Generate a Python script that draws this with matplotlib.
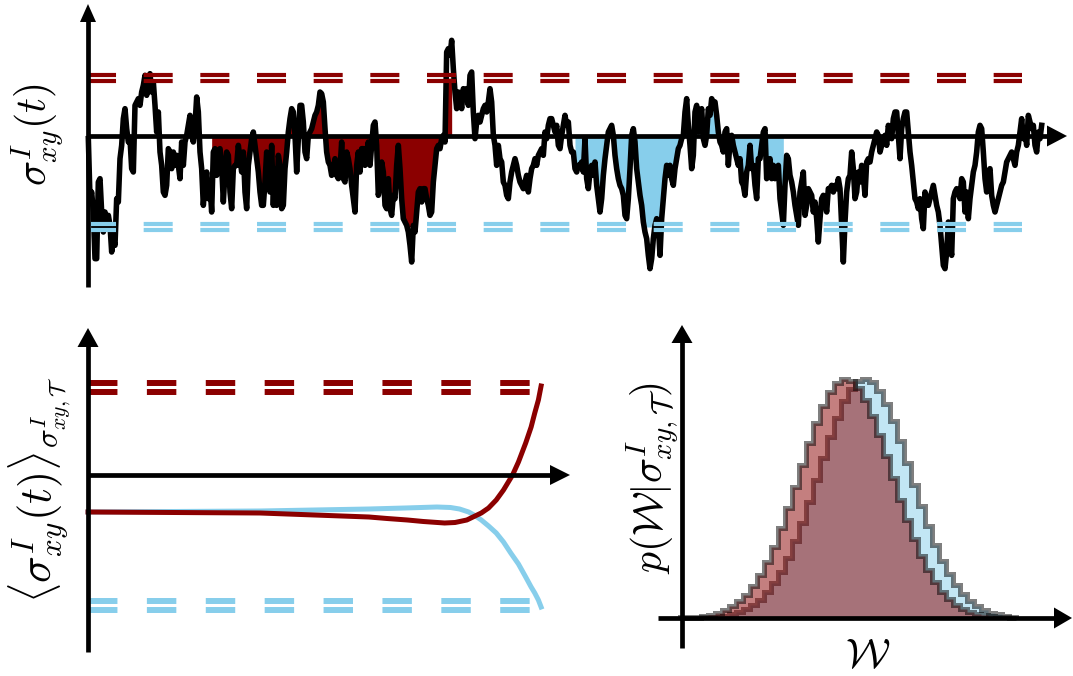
import numpy as np
import matplotlib.pyplot as plt
from matplotlib.patches import Polygon

plt.rcParams['mathtext.fontset'] = 'cm'
plt.rcParams['lines.scale_dashes'] = False

RED = '#8b0000'
BLUE = '#87ceeb'

# ---- top: sampled sigma_xy trace (arbitrary units, 0 = axis) ----
trace = np.array([
    -7, -187, -167, -227, -367, -367, -137, -127, -227, -287,
    -227, -267, -237, -267, -347, -307, -327, -187, -197, -67,
    -27, 53, 83, 23, -17, -7, -97, -107, 93, 103,
    113, 93, 133, 153, 183, 123, 163, 188, 133, 163,
    93, 13, 73, -47, -87, -167, -177, -147, -37, -47,
    -97, -47, -87, -57, -87, -127, -17, -87, -17, 3,
    33, 63, 3, -17, 33, 118, 73, -47, -97, -207,
    -147, -107, -187, -147, -227, -47, -37, -117, -47, -37,
    -87, -197, -107, -47, -57, -167, -217, -97, -87, -87,
    -27, -67, -107, -47,
    -167, -217, -87, -47, -7, 13, -27, -67, -107, -167,
    -207, -207, -137, -47, -87, -167, -27, -207, -97, -207,
    -57, -87, -217, -207, -97, -47, 13, 53, 83, 73,
    3, -107, -7, 93, 93, 43, -47, -67, 3, 13,
    23, 43, 63, 73, 93, 133, 128, 103, 23, -47,
    -77, -87, -117, -107, -67, -117, -127, -97, -17, -127,
    -137, -47, -67, -97, -147, -187, -227, -87, -47, -107,
    -37, -37, -87, -47, -17, -87, -27, 33, 43, -27,
    -177, -147, -77, -107, -207, -217, -127, -217, -237, -177,
    -187, -87, -27, -97, -187, -247,
    -257, -267, -287, -327, -377, -267, -287, -227, -167, -157,
    -197, -157, -157, -187, -207, -237, -227, -137, -87, -37,
    -27, -37, -7, 3, -17, 253, 263, 243, 288, 203,
    133, 83, 133, 113, 83, 143, 123, 143, 93, 183,
    193, 73, -7, 43, 63, 43, 63, 83, 93, 73,
    103, 143, 103, 3, -27, -87, -27, -67, -77, -137,
    -147, -177, -187, -137, -107, -87, -67, -87, -117, -137,
    -147, -157, -137, -117, -167, -127, -97, -87, -67, -87,
    -57, -47, -37, -57, 13, -7, 33, 53, 53, 33,
    13, 33, -27, -37, 3, 33,
    63, 33, 43, -27, -47, -47, -97, -107, -87, -87,
    -77, -107, -7, -127, -157, -107, -87, -117, -77, -147,
    -187, -227, -187, -117, -67, -27, 13, 23, 33, 3,
    -57, -97, -127, -147, -157, -177, -237, -247, -187, -97,
    3, 23, -17, -97, -137, -177, -207, -257, -287, -307,
    -357, -397, -367, -307, -267, -247, -267, -357, -247, -187,
    -127, -87, -117, -87, -127, -147, -97, -67, -37, -27,
    -7, 3, 73, 113, 33, -27, -97, -57, 73, 93,
    13, 53, 83, -7, -27, 3, 83, 63, 113, 103,
    103, 63, 13, -17, -27, -47,
    13, 23, -87, -17, 3, -27, -47, -67, -87, -67,
    -137, -147, -177, -107, -87, -27, -97, -87, -147, -187,
    -67, -67, -27, 13, 23, -127, -87, -67, -127, -87,
    -127, -107, -87, -187, -227, -267, -147, -57, -67, -117,
    -137, -167, -207, -237, -267, -167, -137, -107, -237, -207,
    -157, -167, -177, -227, -197, -247, -317, -247, -187, -177,
    -197, -227, -157, -157, -147, -167, -147, -157, -127, -157,
    -267, -377, -257, -167, -127, -117, -47, -97, -187, -167,
    -107, -137, -87, -117, -177, -77, -67, -77, -47, -27,
    -7, 13, 3, -47, -27, -7,
    3, -27, 33, 13, -7, 53, 73, 73, 3, -67,
    23, 53, 73, 73, 13, -47, -87, -137, -187, -197,
    -217, -187, -247, -277, -167, -187, -207, -187, -167, -147,
    -177, -207, -227, -267, -327, -387, -397, -347, -257, -327,
    -357, -187, -167, -157, -167, -187, -127, -137, -227, -167,
    -247, -187, -147, -107, -87, -47, 13, 33, 23, -47,
    -127, -167, -107, -97, -177, -207, -227, -207, -187, -167,
    -147, -137, -107, -77, -67, -57, -47, -67, -87, -47,
    -27, 13, 53, -7, 13, -27, 63, 43, 23, 33,
    -27, -47, 13, -7, 33,
])
up_thr, low_thr = 174.5, -272
red_win = (74, 218)
blue_win = (292, 417)

# ---- bottom left: conditioned averages ----
t_red = [0, 38, 50, 62, 66, 70.5, 74, 78.7, 81, 83.6, 86.8, 88.4, 90.1, 91.7,
         93.7, 95, 96.6, 97.8, 98.6, 99.4, 100]
mean_red = [-37, -38, -40, -42, -43.5, -45, -46.5, -48, -47.5, -45, -38, -33, -25, -15,
            0, 13, 32, 48, 62, 75, 89]
t_blue = [0, 38, 50, 62, 70, 77, 80, 82, 84, 85.2, 86.8, 88.4, 90.1, 91.7,
          93.3, 95, 96.6, 97.8, 98.6, 99.4, 100]
mean_blue = [-37, -36, -35, -34, -33, -32, -32.5, -34, -37, -40, -45, -51, -58, -67,
             -78, -89, -102, -112, -118, -125, -132]
mean_up, mean_low = 87.4, -130.5

# ---- bottom right: histograms of W ----
hist_red = [0.002, 0.003, 0.005, 0.009, 0.014, 0.021, 0.032, 0.048, 0.069, 0.097,
            0.133, 0.178, 0.234, 0.299, 0.375, 0.459, 0.549, 0.641, 0.731, 0.815,
            0.888, 0.945, 0.983, 1.0, 0.993, 0.963, 0.913, 0.846, 0.766, 0.677,
            0.585, 0.494, 0.408, 0.329, 0.259, 0.199, 0.150, 0.110, 0.079, 0.056,
            0.038, 0.025, 0.017, 0.011, 0.007, 0.004, 0.002, 0.001]
hist_blue = [0.0, 0.001, 0.001, 0.002, 0.004, 0.006, 0.010, 0.016, 0.024, 0.037,
             0.053, 0.076, 0.107, 0.145, 0.194, 0.252, 0.321, 0.399, 0.485, 0.576,
             0.668, 0.757, 0.838, 0.907, 0.959, 0.991, 1.0, 0.986, 0.950, 0.895,
             0.823, 0.740, 0.650, 0.558, 0.468, 0.383, 0.307, 0.240, 0.183, 0.137,
             0.100, 0.071, 0.050, 0.034, 0.022, 0.015, 0.009, 0.006]

W, H = 1073, 676
fig = plt.figure(figsize=(W / 100, H / 100), dpi=100)


def px_axes(x0, y0, x1, y1):
    ax = fig.add_axes([x0 / W, 1 - y1 / H, (x1 - x0) / W, (y1 - y0) / H])
    ax.axis('off')
    return ax


def double_dash(ax, x0, x1, y, off, color, lw, on, gap):
    for d in (-off, off):
        ax.plot([x0, x1], [y + d, y + d], color=color, lw=lw, dashes=(on, gap),
                dash_capstyle='butt', zorder=3)


# top panel
ax1 = px_axes(0, 0, W, 300)
ax1.set_xlim(-53, 590.8)
ax1.set_ylim(-491, 409)
idx = np.arange(len(trace))
for (a, b), c in [(red_win, RED), (blue_win, BLUE)]:
    s = slice(a, b + 1)
    ax1.fill_between(idx[s], 0, np.clip(trace[s], low_thr, up_thr), color=c, lw=0, zorder=1)
ax1.plot(idx, trace, color='k', lw=4, zorder=2)
double_dash(ax1, -0.8, 560, up_thr, 9.5, RED, 3.0, 20.9, 19.9)
double_dash(ax1, -0.8, 560, low_thr, 9.5, BLUE, 3.0, 20.9, 19.9)

# bottom left panel
ax2 = px_axes(0, 300, 600, H)
ax2.set_xlim(-19.43, 113.0)
ax2.set_ylim(-201, 175)
double_dash(ax2, 0.1, 98.2, mean_up, 4.35, RED, 4.3, 21.2, 21.2)
double_dash(ax2, 0.1, 98.2, mean_low, 4.35, BLUE, 4.3, 21.2, 21.2)
ax2.plot(t_blue, mean_blue, color=BLUE, lw=3.6, zorder=4)
ax2.plot(t_red, mean_red, color=RED, lw=3.6, zorder=5)

# bottom right panel
ax3 = px_axes(600, 300, W, H)
ax3.set_xlim(-11.43, 56.14)
ax3.set_ylim(-0.243, 1.331)
edges = np.arange(len(hist_red) + 1)
ax3.stairs(hist_blue, edges, fill=True, facecolor=BLUE, edgecolor='k', lw=3.6, alpha=0.5)
ax3.stairs(hist_red, edges, fill=True, facecolor=RED, edgecolor='k', lw=3.6, alpha=0.5)

# axis arrows and labels in image pixels
ov = fig.add_axes([0, 0, 1, 1])
ov.axis('off')
ov.set_xlim(0, W)
ov.set_ylim(H, 0)


def arrow(x0, y0, x1, y1, hl, hw):
    u = np.array([x1 - x0, y1 - y0], float)
    u /= np.hypot(*u)
    n = np.array([-u[1], u[0]])
    tip = np.array([x1, y1], float)
    base = tip - u * hl
    ov.plot([x0, base[0] + u[0] * 2], [y0, base[1] + u[1] * 2], color='k', lw=3.4,
            solid_capstyle='butt')
    ov.add_patch(Polygon([tip, base + n * hw / 2, base - n * hw / 2], closed=True,
                         color='k', lw=0))


arrow(88, 287, 88, 4, 18, 16)
arrow(88, 136, 1067, 136, 20, 21)
arrow(88, 652, 88, 328, 19, 21)
arrow(88, 475, 570, 475, 20, 20)
arrow(682, 648, 682, 325, 18, 21)
arrow(658, 618, 1072, 618, 18, 21)

ov.text(37, 135, r'$\sigma^I_{xy}(t)$', rotation=90, ha='center', va='center', fontsize=30)
ov.text(40, 490, r'$\langle\sigma^I_{xy}(t)\rangle_{\sigma^I_{xy,\mathcal{T}}}$', rotation=90,
        ha='center', va='center', fontsize=32)
ov.text(652, 478, r'$p(\mathcal{W}|\sigma^I_{xy,\mathcal{T}})$', rotation=90,
        ha='center', va='center', fontsize=30)
ov.text(868, 655, r'$\mathcal{W}$', ha='center', va='center', fontsize=30)

fig.savefig('out.png', dpi=100)
